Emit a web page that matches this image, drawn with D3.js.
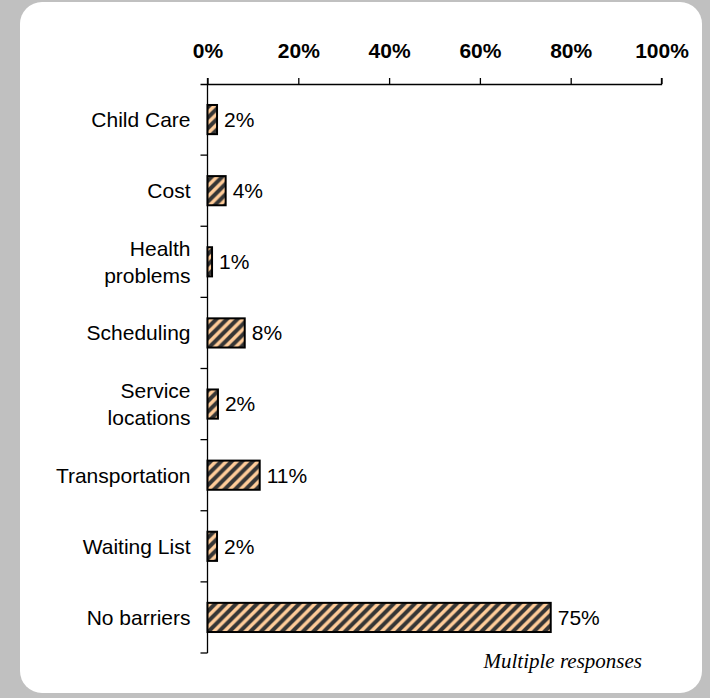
<!DOCTYPE html>
<html><head><meta charset="utf-8">
<script src="https://cdn.jsdelivr.net/npm/d3@7"></script>
<style>
html,body{margin:0;padding:0;background:#c0c0c0;}
svg{display:block;}
</style></head>
<body>
<svg id="chart" width="710" height="698"></svg>
<script>
// Data
const categories = [["Child Care"], ["Cost"], ["Health", "problems"], ["Scheduling"], ["Service", "locations"], ["Transportation"], ["Waiting List"], ["No barriers"]];
const values = [2.1, 4.0, 1.0, 8.2, 2.3, 11.5, 2.1, 75.6];
const tickValues = [0, 20, 40, 60, 80, 100];
const footnote = "Multiple responses";

const svg = d3.select("#chart");
svg.append("rect").attr("x", 0).attr("y", 0).attr("width", 710).attr("height", 698).attr("fill", "#c0c0c0");
svg.append("rect").attr("x", 20).attr("y", 2).attr("width", 682).attr("height", 691).attr("rx", 22).attr("ry", 22).attr("fill", "#ffffff");

const P = 10.5;
const defs = svg.append("defs");
const pat = defs.append("pattern").attr("id", "hatch").attr("patternUnits", "userSpaceOnUse")
  .attr("width", P).attr("height", P);
pat.append("rect").attr("width", P).attr("height", P).attr("fill", "#ffcc99");
pat.append("path").attr("d", `M-2,2 L2,-2 M0,${P} L${P},0 M${P - 2},${P + 2} L${P + 2},${P - 2}`)
  .attr("stroke", "#353535").attr("stroke-width", 4);

const x0 = 207.5, x1 = 661.5, yTop = 84, yBot = 653;
const x = d3.scaleLinear().domain([0, 100]).range([x0, x1]);
const keys = categories.map(c => c.join(" "));
const y = d3.scaleBand().domain(keys).range([yTop, yBot]).paddingInner(0.59).paddingOuter(0.295);

// Top axis
const gx = svg.append("g").attr("transform", `translate(0,${yTop})`)
  .call(d3.axisTop(x).tickValues(tickValues).tickSize(6).tickPadding(20).tickFormat(d => d + "%"));
gx.selectAll("path,line").attr("stroke", "#000").attr("stroke-width", 1.3);
gx.selectAll("text").attr("font-family", "Liberation Sans, Arial, sans-serif").attr("font-size", 21)
  .attr("font-weight", "bold").attr("fill", "#000");
gx.select(".domain").attr("d", `M${x0 - 7},0.5H${x1}V-6`);

// Left axis (band boundaries)
const bounds = keys.map(k => y(k) - y.step() * y.paddingInner() / 2).concat([yBot]);
bounds[0] = yTop;
svg.append("line").attr("x1", x0).attr("x2", x0).attr("y1", yTop - 6).attr("y2", yBot)
  .attr("stroke", "#000").attr("stroke-width", 1.3);
svg.selectAll(".ytick").data(bounds.slice(1)).join("line").attr("class", "ytick")
  .attr("x1", x0 - 7).attr("x2", x0).attr("y1", d => d).attr("y2", d => d)
  .attr("stroke", "#000").attr("stroke-width", 1.3);

// Category labels
const lab = svg.selectAll(".cat").data(categories).join("text").attr("class", "cat")
  .attr("text-anchor", "end").attr("font-family", "Liberation Sans, Arial, sans-serif")
  .attr("font-size", 21).attr("fill", "#000");
lab.each(function(d, i) {
  const cy = y(keys[i]) + y.bandwidth() / 2;
  const n = d.length;
  d.forEach((line, j) => {
    d3.select(this).append("tspan").attr("x", x0 - 17)
      .attr("y", cy + (j - (n - 1) / 2) * 27).attr("dy", "0.35em").text(line);
  });
});

// Bars
svg.selectAll(".bar").data(values).join("rect").attr("class", "bar")
  .attr("x", x(0)).attr("y", (d, i) => y(keys[i]))
  .attr("width", d => x(d) - x(0)).attr("height", y.bandwidth())
  .attr("fill", "url(#hatch)").attr("stroke", "#000").attr("stroke-width", 2);

// Value labels
svg.selectAll(".val").data(values).join("text").attr("class", "val")
  .attr("x", d => x(d) + 7).attr("y", (d, i) => y(keys[i]) + y.bandwidth() / 2).attr("dy", "0.35em")
  .attr("font-family", "Liberation Sans, Arial, sans-serif").attr("font-size", 21).attr("fill", "#000")
  .text(d => Math.floor(d) + "%");

// Footnote
svg.append("text").attr("x", 642).attr("y", 668).attr("text-anchor", "end")
  .attr("font-family", "Liberation Serif, Times New Roman, serif").attr("font-style", "italic")
  .attr("font-size", 21).attr("fill", "#000").text(footnote);
</script>
</body></html>
